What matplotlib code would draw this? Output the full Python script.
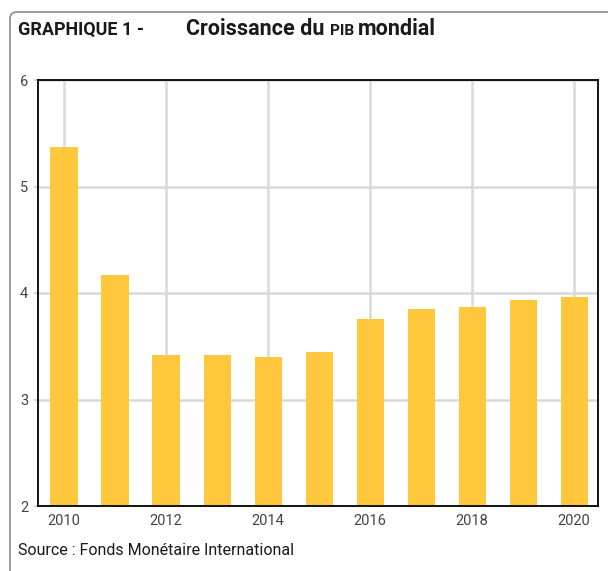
import matplotlib
matplotlib.use("Agg")
import matplotlib.pyplot as plt
from matplotlib.patches import FancyBboxPatch

plt.rcParams['font.family'] = ['Roboto', 'DejaVu Sans']

# croissance du PIB mondial, en %
years = [2010, 2011, 2012, 2013, 2014, 2015, 2016, 2017, 2018, 2019, 2020]
growth = [5.37, 4.17, 3.42, 3.42, 3.40, 3.45, 3.76, 3.85, 3.87, 3.93, 3.96]
xticks = [2010, 2012, 2014, 2016, 2018, 2020]
yticks = [2, 3, 4, 5, 6]

fig = plt.figure(figsize=(6.08, 5.71), dpi=100)

# cadre arrondi autour du graphique
frame = FancyBboxPatch((10/608, -0.1), 1.2, 1.1 - 12/571,
                       boxstyle="round,pad=0,rounding_size=0.012",
                       transform=fig.transFigure, fill=False,
                       edgecolor='#8c8c8c', linewidth=1.2)
fig.patches.append(frame)

ax = fig.add_axes([38/608, 65/571, 560/608, 426/571])
ax.bar(years, growth, width=0.53, color='#FFC73C', zorder=2)

ax.set_ylim(2, 6)
ax.set_xlim(2009.49, 2020.47)
ax.set_yticks(yticks)
ax.set_xticks(xticks)
ax.grid(True, color='#d9d9d9', linewidth=1.8, zorder=0)
ax.set_axisbelow(True)

for sp in ax.spines.values():
    sp.set_color('black')
    sp.set_linewidth(1.3)

ax.tick_params(axis='y', length=3, color='#d9d9d9', width=1.5, pad=4,
               labelsize=10.5, labelcolor='#444444')
ax.tick_params(axis='x', length=0, pad=6, labelsize=10.5, labelcolor='#444444')

base = 1 - 35/571
fig.text(18/608, base, "GRAPHIQUE 1 -", fontsize=13, fontweight='bold',
         color='#1a1a1a', va='baseline')
t1 = fig.text(186/608, base, "Croissance du ", fontsize=15.5, fontweight='bold',
              color='#1a1a1a', va='baseline')
fig.canvas.draw()
bb = t1.get_window_extent()
t2 = fig.text(bb.x1 / 608, base, "PIB", fontsize=11, fontweight='bold',
              color='#1a1a1a', va='baseline')
bb2 = t2.get_window_extent()
fig.text(bb2.x1 / 608 + 4/608, base, "mondial", fontsize=15.5, fontweight='bold',
         color='#1a1a1a', va='baseline')

fig.text(18/608, 1 - 555/571, "Source : Fonds Monétaire International",
         fontsize=11.5, color='#1a1a1a', va='baseline')

plt.savefig('out.png', dpi=100)
